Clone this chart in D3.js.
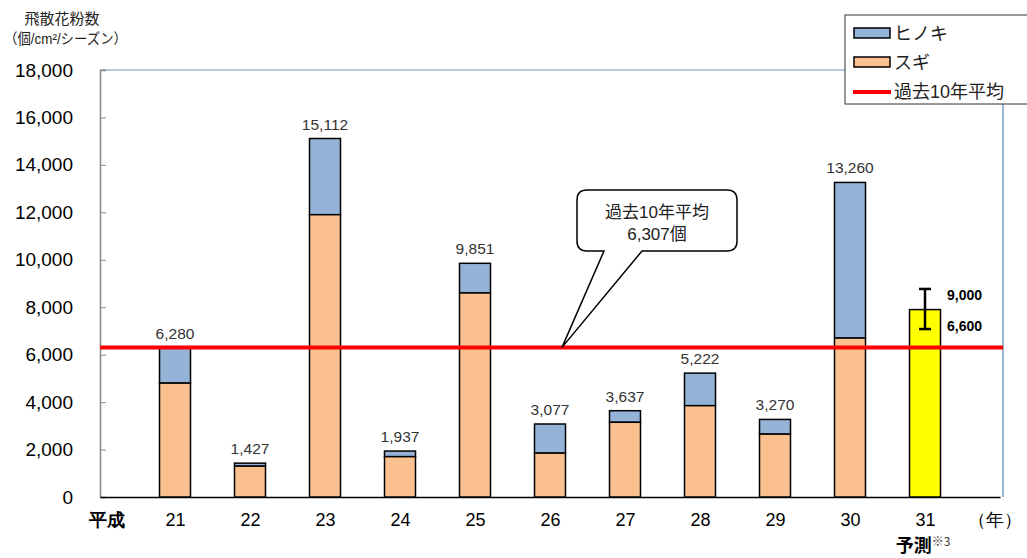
<!DOCTYPE html>
<html>
<head>
<meta charset="utf-8">
<script src="https://cdn.jsdelivr.net/npm/d3@7"></script>
<style>
  body { margin: 0; background: #fff; }
  svg { font-family: "Liberation Sans", Arial, "Noto Sans CJK JP", sans-serif; }
</style>
</head>
<body>
<div id="chart"></div>
<script>
// data
const years = ["21", "22", "23", "24", "25", "26", "27", "28", "29", "30"];
const sugi = [4800, 1300, 11900, 1700, 8600, 1850, 3150, 3850, 2650, 6700];
const totals = [6280, 1427, 15112, 1937, 9851, 3077, 3637, 5222, 3270, 13260];
const forecastYear = "31";
const forecastValue = 7900;
const forecastErr = [7080, 8770];
const forecastLabels = ["9,000", "6,600"];
const average = 6307;
const yTicks = [0, 2000, 4000, 6000, 8000, 10000, 12000, 14000, 16000, 18000];

const fmt = d3.format(",");

const W = 1027, H = 558;
const pLeft = 100, pRight = 1003, pTop = 70, pBottom = 497;

const svg = d3.select("#chart").append("svg")
  .attr("width", W).attr("height", H);

// x: one point per year plus the 平成 / (年) ends
const x = d3.scalePoint()
  .domain(["平成"].concat(years, [forecastYear], ["（年）"]))
  .range([pLeft, pRight - 3]);

const y = d3.scaleLinear().domain([0, 18000]).range([pBottom, pTop]);

// plot frame (top + right)
svg.append("line").attr("x1", pLeft).attr("x2", pRight).attr("y1", pTop).attr("y2", pTop)
  .attr("stroke", "#9fb6d6").attr("stroke-width", 1.5);
svg.append("line").attr("x1", pRight).attr("x2", pRight).attr("y1", pTop).attr("y2", pBottom)
  .attr("stroke", "#7a9ccc").attr("stroke-width", 1.5);

// y axis
const yAxis = svg.append("g")
  .attr("transform", "translate(" + pLeft + ",0)")
  .call(d3.axisLeft(y).tickValues(yTicks).tickSize(-6).tickPadding(27).tickFormat(fmt));
yAxis.select(".domain").attr("stroke", "#888").attr("stroke-width", 1.5);
yAxis.selectAll(".tick line").attr("stroke", "#888");
yAxis.selectAll("text").attr("font-size", 19).attr("fill", "#000")
  .attr("font-family", "'Liberation Sans', Arial, sans-serif");

// x axis
const xAxis = svg.append("g")
  .attr("transform", "translate(0," + pBottom + ")")
  .call(d3.axisBottom(x).tickSize(0).tickPadding(16));
xAxis.select(".domain").attr("stroke", "#000").attr("stroke-width", 1.5);
xAxis.selectAll("text").attr("font-size", 18).attr("fill", "#000");
xAxis.selectAll(".tick").filter(d => d === "平成")
  .select("text").attr("font-weight", "bold").attr("dx", 6);
xAxis.selectAll(".tick").filter(d => d === "（年）")
  .select("text").attr("dx", -6);

// small ticks inside at bar centres
svg.selectAll(".xt")
  .data(years.concat([forecastYear]))
  .enter().append("line")
  .attr("x1", d => x(d)).attr("x2", d => x(d))
  .attr("y1", pBottom).attr("y2", pBottom - 6)
  .attr("stroke", "#666");

// 予測※3
const pred = svg.append("text")
  .attr("x", x(forecastYear) - 2).attr("y", 552)
  .attr("text-anchor", "middle").attr("font-size", 18).attr("font-weight", "bold")
  .attr("font-family", "'Noto Sans CJK JP', sans-serif");
pred.append("tspan").text("予測");
pred.append("tspan").text("※3").attr("font-size", 12).attr("font-weight", "normal")
  .attr("dy", -6).attr("fill", "#333");

const bw = 31;

// stacked bars
const bars = svg.selectAll(".bar")
  .data(years.map((yr, i) => ({ yr: yr, sugi: sugi[i], total: totals[i] })))
  .enter().append("g");

bars.append("rect")
  .attr("x", d => x(d.yr) - bw / 2).attr("width", bw)
  .attr("y", d => y(d.total)).attr("height", d => y(d.sugi) - y(d.total))
  .attr("fill", "#95b3d7").attr("stroke", "#000").attr("stroke-width", 1.5);
bars.append("rect")
  .attr("x", d => x(d.yr) - bw / 2).attr("width", bw)
  .attr("y", d => y(d.sugi)).attr("height", d => y(0) - y(d.sugi))
  .attr("fill", "#fac090").attr("stroke", "#000").attr("stroke-width", 1.5);
bars.append("text")
  .attr("x", d => x(d.yr)).attr("y", d => y(d.total) - 9)
  .attr("text-anchor", "middle").attr("font-size", 15.5).attr("fill", "#333")
  .text(d => fmt(d.total));

// forecast bar
svg.append("rect")
  .attr("x", x(forecastYear) - bw / 2).attr("width", bw)
  .attr("y", y(forecastValue)).attr("height", y(0) - y(forecastValue))
  .attr("fill", "#ffff00").attr("stroke", "#000").attr("stroke-width", 1.5);
const ex = x(forecastYear);
svg.append("line").attr("x1", ex).attr("x2", ex)
  .attr("y1", y(forecastErr[1])).attr("y2", y(forecastErr[0]))
  .attr("stroke", "#000").attr("stroke-width", 2.5);
forecastErr.forEach(v => {
  svg.append("line").attr("x1", ex - 6).attr("x2", ex + 6)
    .attr("y1", y(v)).attr("y2", y(v))
    .attr("stroke", "#000").attr("stroke-width", 2.5);
});
svg.append("text").attr("x", ex + 22).attr("y", y(forecastErr[1]) + 11)
  .attr("font-size", 14).attr("font-weight", "bold").text(forecastLabels[0]);
svg.append("text").attr("x", ex + 22).attr("y", y(forecastErr[0]) + 2)
  .attr("font-size", 14).attr("font-weight", "bold").text(forecastLabels[1]);

// average line
svg.append("line").attr("x1", pLeft).attr("x2", pRight)
  .attr("y1", y(average)).attr("y2", y(average))
  .attr("stroke", "#ff0000").attr("stroke-width", 4);

// callout
const cx0 = 577, cx1 = 737, cy0 = 190, cy1 = 251, r = 10;
const tipX = 562, tipY = y(average);
const bx0 = 604, bx1 = 642;
const callout = "M" + (cx0 + r) + "," + cy0 +
  " H" + (cx1 - r) + " Q" + cx1 + "," + cy0 + " " + cx1 + "," + (cy0 + r) +
  " V" + (cy1 - r) + " Q" + cx1 + "," + cy1 + " " + (cx1 - r) + "," + cy1 +
  " H" + bx1 + " L" + tipX + "," + tipY + " L" + bx0 + "," + cy1 +
  " H" + (cx0 + r) + " Q" + cx0 + "," + cy1 + " " + cx0 + "," + (cy1 - r) +
  " V" + (cy0 + r) + " Q" + cx0 + "," + cy0 + " " + (cx0 + r) + "," + cy0 + " Z";
svg.append("path").attr("d", callout)
  .attr("fill", "#fff").attr("stroke", "#000").attr("stroke-width", 1.5);
svg.append("text").attr("x", 657).attr("y", 218).attr("text-anchor", "middle")
  .attr("font-size", 17).attr("fill", "#222").text("過去10年平均");
svg.append("text").attr("x", 657).attr("y", 240).attr("text-anchor", "middle")
  .attr("font-size", 17).attr("fill", "#222").text(fmt(average) + "個");

// y title
svg.append("text").attr("x", 62).attr("y", 24).attr("text-anchor", "middle")
  .attr("font-size", 15).attr("fill", "#222").text("飛散花粉数");
svg.append("text").attr("x", 4).attr("y", 44)
  .attr("font-size", 14.5).attr("fill", "#222")
  .attr("textLength", 123).attr("lengthAdjust", "spacingAndGlyphs")
  .text("（個/cm²/シーズン）");

// legend
const lg = svg.append("g");
lg.append("rect").attr("x", 845).attr("y", 15).attr("width", 190).attr("height", 89)
  .attr("fill", "#fff").attr("stroke", "#333").attr("stroke-width", 1);
const legendItems = [
  { label: "ヒノキ", fill: "#95b3d7", type: "box" },
  { label: "スギ", fill: "#fac090", type: "box" },
  { label: "過去10年平均", fill: "#ff0000", type: "line" }
];
legendItems.forEach((d, i) => {
  const ly = 33 + i * 29;
  if (d.type === "box") {
    lg.append("rect").attr("x", 854).attr("y", ly - 5).attr("width", 36).attr("height", 10)
      .attr("fill", d.fill).attr("stroke", "#000").attr("stroke-width", 1.5);
  } else {
    lg.append("line").attr("x1", 853).attr("x2", 891).attr("y1", ly + 1).attr("y2", ly + 1)
      .attr("stroke", d.fill).attr("stroke-width", 4);
  }
  lg.append("text").attr("x", 894).attr("y", ly + 7)
    .attr("font-size", 18).attr("fill", "#222").text(d.label);
});
</script>
</body>
</html>
